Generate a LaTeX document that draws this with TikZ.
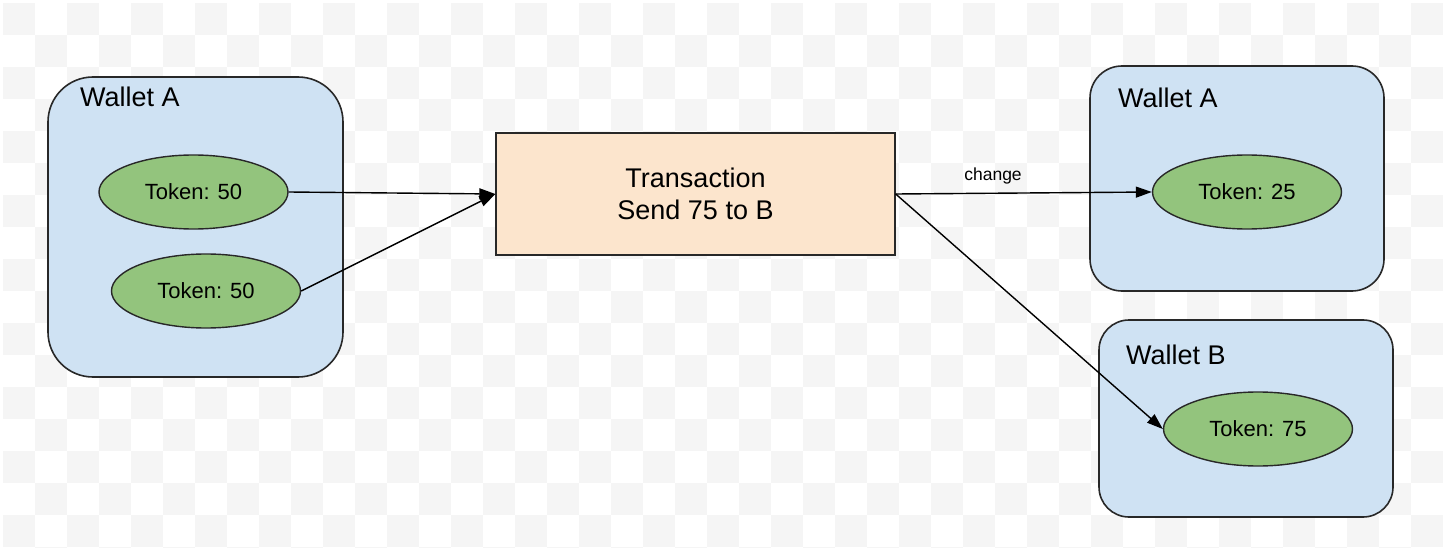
\documentclass[tikz,border=0pt]{standalone}
\usepackage{fontspec}
\setmainfont{Liberation Sans}
\usetikzlibrary{shapes.geometric,arrows.meta}
\definecolor{chk}{RGB}{245,245,245}
\definecolor{walletblue}{RGB}{207,226,243}
\definecolor{tokgreen}{RGB}{147,196,125}
\definecolor{txorange}{RGB}{252,229,205}
\definecolor{edgegray}{RGB}{40,40,40}
\begin{document}
\begin{tikzpicture}[x=1pt,y=-1pt,
  wallet/.style={rectangle,draw=edgegray,line width=1.6pt,fill=walletblue,inner sep=0pt},
  wlabel/.style={inner sep=0pt,anchor=base west,font=\fontsize{27}{32}\selectfont},
  token/.style={ellipse,draw=edgegray,line width=1.4pt,fill=tokgreen,minimum width=189pt,minimum height=74pt,inner sep=0pt,font=\fontsize{22}{26}\selectfont},
  txbox/.style={rectangle,draw=edgegray,line width=1.4pt,fill=txorange,minimum width=399pt,minimum height=122pt,inner sep=0pt,align=center,font=\fontsize{27}{32}\selectfont},
  conn/.style={draw=black,line width=1.4pt,-{Triangle[length=16pt,width=11pt]}},
  elabel/.style={inner sep=0pt,font=\fontsize{17.5}{20}\selectfont}
]
\useasboundingbox (0,0) rectangle (1443,548);
\fill[white] (0,0) rectangle (1443,548);
\begin{scope}
\clip (0,0) rectangle (1443,548);
\foreach \i in {0,2,...,44}{
  \foreach \j in {0,2,...,16}{
    \fill[chk] (3+32*\i,3+32*\j) rectangle ++(32,32);
    \fill[chk] (35+32*\i,35+32*\j) rectangle ++(32,32);
  }
}
\end{scope}

% wallets
\node[wallet,minimum width=295pt,minimum height=300pt,rounded corners=45pt] (wa1) at (195.5,227) {};
\node[wallet,minimum width=294pt,minimum height=225pt,rounded corners=32pt] (wa2) at (1237,178.5) {};
\node[wallet,minimum width=294pt,minimum height=197pt,rounded corners=30pt] (wb) at (1246,418.5) {};
\node[wlabel] (wa1l) at (80,107) {Wallet A};
\node[wlabel] (wa2l) at (1118,108) {Wallet A};
\node[wlabel] (wbl) at (1126,364) {Wallet B};

% tokens
\node[token] (e1) at (193.5,192) {Token: 50};
\node[token] (e2) at (206,291) {Token: 50};
\node[token] (e3) at (1247,192) {Token: 25};
\node[token] (e4) at (1258,429) {Token: 75};

% transaction
\node[txbox] (tx) at (695.5,194) {Transaction\\Send 75 to B};

% connectors
\draw[conn] (e1.east) -- (tx.west);
\draw[conn] (e2.east) -- (tx.west);
\draw[conn] (tx.east) -- node[elabel,pos=0.38,above=8pt] (chg) {change} (e3.west);
\draw[conn] (tx.east) -- (e4.west);
\end{tikzpicture}
\end{document}
